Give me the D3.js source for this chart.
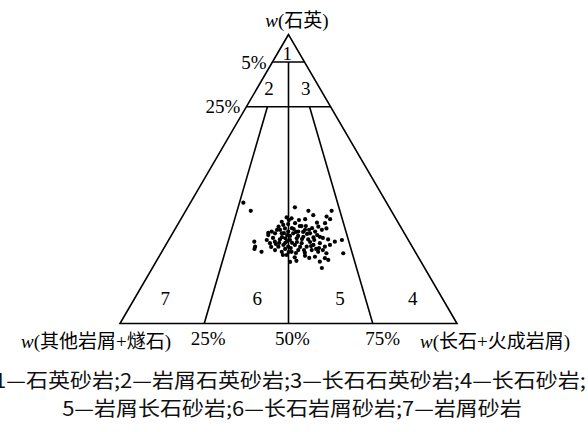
<!DOCTYPE html>
<html>
<head>
<meta charset="utf-8">
<script src="https://cdn.jsdelivr.net/npm/d3@7"></script>
<style>
  body { margin: 0; background: #fff; }
  .serif { font-family: "Liberation Serif", "Times New Roman", "Noto Sans CJK SC", serif; fill: #000; }
  .note { font-family: "Noto Sans CJK SC", "Noto Sans", sans-serif; fill: #111; }
</style>
</head>
<body>
<div id="chart"></div>
<script>
// sample composition, % quartz and % feldspar (+ igneous lithics); rest is other lithics + chert
var quartzPct = [40.2, 39.0, 39.0, 37.5, 36.7, 36.4, 36.1, 35.2, 34.9, 34.7,
  36.1, 34.4, 34.7, 33.7, 32.9, 33.5, 31.8, 31.2, 30.6, 31.2,
  31.8, 31.2, 31.8, 32.4, 31.2, 31.8, 32.4, 32.9, 33.5, 28.9,
  27.8, 28.3, 29.1, 29.5, 28.9, 29.5, 30.0, 29.1, 29.8, 30.0,
  29.1, 28.3, 28.9, 24.8, 26.6, 26.6, 27.2, 26.6, 27.2, 27.8,
  26.6, 27.2, 27.8, 26.6, 25.4, 24.8, 24.8, 25.4, 24.5, 25.4,
  24.8, 24.3, 24.3, 23.7, 22.9, 23.4, 23.1, 22.6, 21.7, 21.4,
  22.0, 41.8, 39.0, 28.3, 25.8, 31.4, 37.0, 19.2, 21.3, 34.1,
  33.0, 30.3, 30.6, 27.9, 27.9, 26.5, 28.2, 25.8, 33.7, 35.8,
  29.6, 25.8, 31.7, 33.0, 29.6, 27.2, 24.4, 22.7, 32.4, 35.8,
  32.4, 31.3, 30.3, 32.7, 28.2, 29.2, 31.0, 26.8, 28.9, 28.5,
  29.9, 27.5, 26.1, 25.4, 33.7, 31.7, 27.9, 32.4, 30.6, 26.1,
  24.7, 23.7, 26.5, 25.4];
var feldsparPct = [31.8, 36.4, 43.3, 38.6, 31.1, 32.7, 36.9, 30.4, 41.0, 43.5,
  44.3, 32.7, 34.6, 37.0, 32.5, 30.3, 29.1, 30.4, 28.7, 32.4,
  34.0, 35.8, 37.0, 38.7, 40.8, 42.0, 43.7, 44.8, 42.1, 29.1,
  30.6, 31.8, 32.9, 34.3, 36.0, 37.7, 39.4, 41.3, 42.5, 44.3,
  47.2, 49.6, 51.4, 29.6, 26.8, 33.7, 34.9, 36.6, 38.3, 40.0,
  42.1, 43.8, 45.4, 47.5, 33.3, 35.6, 38.5, 40.2, 42.6, 44.2,
  46.4, 49.1, 54.1, 37.6, 40.4, 43.2, 46.3, 49.5, 41.5, 48.6,
  50.8, 15.7, 19.3, 25.7, 27.0, 28.3, 42.8, 50.3, 39.8, 31.4,
  34.5, 37.7, 34.3, 33.3, 37.1, 40.2, 42.3, 45.3, 38.3, 35.2,
  30.6, 36.1, 38.5, 40.5, 45.4, 48.7, 40.0, 44.8, 30.4, 32.2,
  31.3, 33.0, 35.3, 35.2, 38.4, 39.4, 40.0, 43.3, 43.2, 35.3,
  33.1, 32.5, 37.6, 41.9, 36.5, 36.4, 35.1, 39.9, 43.2, 46.0,
  37.7, 36.5, 31.6, 47.5];

// field boundaries
var quartzLevels = [90.5, 75];          // drawn level of the 5% and 25% lines
var quartzLevelLabels = ["5%", "25%"];
var ratioLevels = [25, 50, 75];         // F/(F+R), %
var ratioLabels = ["25%", "50%", "75%"];
var fieldNames = ["1", "2", "3", "4", "5", "6", "7"];
var fieldCentres = [[93.6, 2.8], [81.5, 3.5], [81.5, 14.4], [8.8, 82.5], [8.8, 60.9], [8.8, 36.3], [8.8, 9]]; // [Q, F] label spots
var legendLines = ["1—石英砂岩;2—岩屑石英砂岩;3—长石石英砂岩;4—长石砂岩;",
  "5—岩屑长石砂岩;6—长石岩屑砂岩;7—岩屑砂岩"];

var svgWidth = 588, svgHeight = 432;

var svg = d3.select("#chart").append("svg")
  .attr("width", svgWidth)
  .attr("height", svgHeight);

var xScale = d3.scaleLinear().domain([0, 100]).range([120, 457]);
var yScale = d3.scaleLinear().domain([0, 100]).range([323.5, 34.5]);

function px(q, f) { return xScale(f + q / 2); }
function py(q) { return yScale(q); }

var line = d3.line();
var lines = svg.append("g")
  .attr("fill", "none")
  .attr("stroke", "#000")
  .attr("stroke-width", 1.6);

// outer triangle
lines.append("path")
  .attr("d", line([[px(100, 0), py(100)], [px(0, 0), py(0)], [px(0, 100), py(0)]]) + "Z");

// horizontal quartz lines
quartzLevels.forEach(function(q) {
  lines.append("path")
    .attr("d", line([[px(q, 0), py(q)], [px(q, 100 - q), py(q)]]));
});

// ratio lines
ratioLevels.forEach(function(r) {
  var top = r === 50 ? quartzLevels[0] : quartzLevels[1];
  lines.append("path")
    .attr("d", line([[px(0, r), py(0)], [px(top, (100 - top) * r / 100), py(top)]]));
});

// samples
svg.append("g").selectAll("circle")
  .data(quartzPct)
  .enter()
  .append("circle")
  .attr("cx", function(d, i) { return px(d, feldsparPct[i]); })
  .attr("cy", function(d) { return py(d); })
  .attr("r", 2.1)
  .attr("fill", "#000");

// field numbers
svg.append("g").selectAll("text")
  .data(fieldNames)
  .enter()
  .append("text")
  .attr("class", "serif")
  .attr("text-anchor", "middle")
  .attr("font-size", 19)
  .attr("x", function(d, i) { return px(fieldCentres[i][0], fieldCentres[i][1]); })
  .attr("y", function(d, i) { return py(fieldCentres[i][0]); })
  .attr("dy", "0.35em")
  .text(function(d) { return d; });

// quartz level labels
svg.append("g").selectAll("text")
  .data(quartzLevelLabels)
  .enter()
  .append("text")
  .attr("class", "serif")
  .attr("text-anchor", "end")
  .attr("font-size", 19)
  .attr("x", function(d, i) { return px(quartzLevels[i], 0) - 6; })
  .attr("y", function(d, i) { return py(quartzLevels[i]); })
  .attr("dy", "0.35em")
  .text(function(d) { return d; });

// ratio labels along base
svg.append("g").selectAll("text")
  .data(ratioLabels)
  .enter()
  .append("text")
  .attr("class", "serif")
  .attr("text-anchor", "middle")
  .attr("font-size", 19)
  .attr("x", function(d, i) { return px(0, ratioLevels[i]) + (i === 2 ? 10 : 4); })
  .attr("y", 338)
  .attr("dy", "0.35em")
  .text(function(d) { return d; });

// corner labels
function cornerLabel(x, y, anchor, name) {
  var t = svg.append("text")
    .attr("class", "serif")
    .attr("text-anchor", anchor)
    .attr("font-size", 19)
    .attr("x", x)
    .attr("y", y)
    .attr("dy", "0.35em");
  t.append("tspan").attr("font-style", "italic").text("w");
  t.append("tspan").text("(" + name + ")");
}
cornerLabel(297, 20, "middle", "石英");
cornerLabel(96, 341, "middle", "其他岩屑+燧石");
cornerLabel(495, 341, "middle", "长石+火成岩屑");

// legend (glyphs a bit wide in the original)
svg.append("g").selectAll("text")
  .data(legendLines)
  .enter()
  .append("text")
  .attr("class", "note")
  .attr("text-anchor", "middle")
  .attr("font-size", 20)
  .attr("transform", function(d, i) {
    return "translate(" + (i === 0 ? 290 : 292) + "," + (381 + i * 28) + ") scale(1.1,1)";
  })
  .attr("dy", "0.35em")
  .text(function(d) { return d; });
</script>
</body>
</html>
